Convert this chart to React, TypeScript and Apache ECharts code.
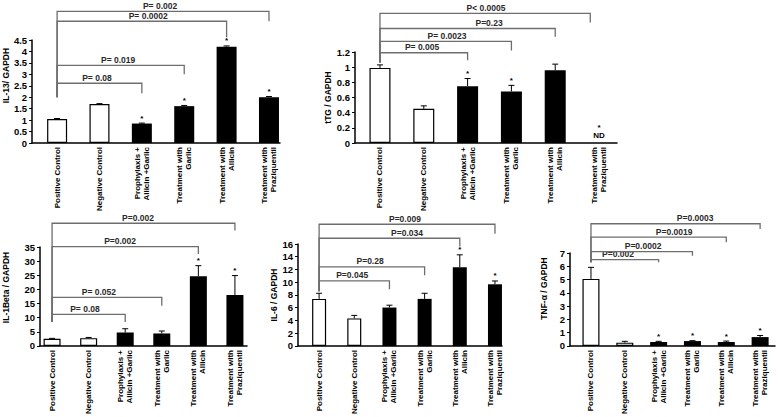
import React, { useEffect, useRef } from 'react';
import * as echarts from 'echarts';

const categories = [
  'Positive Control',
  'Negative Control',
  'Prophylaxis +\nAllicin +Garlic',
  'Treatment with\nGarlic',
  'Treatment with\nAllicin',
  'Treatment with\nPraziquentil',
];
const controlCount = 2;

// IL-13 / GAPDH
const il13Mean = [1.05, 1.70, 0.85, 1.61, 4.21, 2.0];
const il13Sem = [0.02, 0.02, 0.02, 0.03, 0.03, 0.03];
const il13Sig = [0, 0, 1, 1, 1, 1];
const il13Brackets = [
  { p: 'P= 0.08', to: 2, level: 2.61, drop: 2.17, lx: 0.94 },
  { p: 'P= 0.019', to: 3, level: 3.39, drop: 3.0, lx: 1.44 },
  { p: 'P= 0.0002', to: 4, level: 5.32, drop: 4.62, lx: 2.15 },
  { p: 'P= 0.002', to: 5, level: 5.75, drop: 5.32, lx: 2.43 },
];

// tTG / GAPDH
const ttgMean = [0.99, 0.45, 0.75, 0.68, 0.96, null];
const ttgSem = [0.04, 0.04, 0.1, 0.08, 0.08, 0];
const ttgSig = [0, 0, 1, 1, 0, 1];
const ttgBrackets = [
  { p: 'P= 0.005', to: 2, level: 1.19, drop: 1.09, lx: 0.96 },
  { p: 'P= 0.0023', to: 3, level: 1.34, drop: 1.22, lx: 1.53 },
  { p: 'P=0.23', to: 4, level: 1.51, drop: 1.40, lx: 2.49 },
  { p: 'P< 0.0005', to: 4.8, level: 1.71, drop: 1.59, lx: 2.42 },
];

// IL-1Beta / GAPDH
const il1Mean = [2.55, 2.77, 4.76, 4.43, 24.7, 18.05];
const il1Sem = [0.15, 0.25, 1.34, 0.87, 3.7, 6.85];
const il1Sig = [0, 0, 0, 0, 1, 1];
const il1Brackets = [
  { p: 'P= 0.08', to: 2, level: 11.2, drop: 8.5, lx: 0.9 },
  { p: 'P= 0.052', to: 3, level: 17.2, drop: 14.2, lx: 1.28 },
  { p: 'P=0.002', to: 4, level: 35.1, drop: 32.5, lx: 1.86 },
  { p: 'P=0.002', to: 5, level: 43.4, drop: 40.8, lx: 2.35 },
];

// IL-6 / GAPDH
const il6Mean = [7.39, 4.33, 6.03, 7.39, 12.35, 9.68];
const il6Sem = [0.88, 0.47, 0.37, 0.88, 1.95, 0.52];
const il6Sig = [0, 0, 0, 0, 1, 1];
const il6Brackets = [
  { p: 'P=0.045', to: 2, level: 10.2, drop: 8.9, lx: 0.94 },
  { p: 'P=0.28', to: 3, level: 12.4, drop: 11.1, lx: 1.45 },
  { p: 'P=0.034', to: 4, level: 16.9, drop: 15.6, lx: 2.5 },
  { p: 'P=0.009', to: 5, level: 19.1, drop: 17.6, lx: 2.44 },
];

// TNF-α / GAPDH
const tnfMean = [5.05, 0.25, 0.3, 0.37, 0.3, 0.67];
const tnfSem = [0.87, 0.1, 0.05, 0.03, 0.07, 0.12];
const tnfSig = [0, 0, 1, 1, 1, 1];
const tnfBrackets = [
  { p: 'P=0.002', to: 2, level: 6.5, drop: 6.3, lx: 0.8 },
  { p: 'P=0.0002', to: 3, level: 7.1, drop: 6.8, lx: 1.54 },
  { p: 'P=0.0019', to: 4, level: 8.2, drop: 7.8, lx: 2.46 },
  { p: 'P=0.0003', to: 5, level: 9.2, drop: 8.8, lx: 3.08 },
];

const panels = [
  { name: 'IL-13/ GAPDH', mean: il13Mean, sem: il13Sem, sig: il13Sig, br: il13Brackets, base: 2.0, max: 4.5, interval: 0.5 },
  { name: 'tTG / GAPDH', mean: ttgMean, sem: ttgSem, sig: ttgSig, br: ttgBrackets, base: 1.06, max: 1.2, interval: 0.2 },
  { name: 'IL-1Beta / GAPDH', mean: il1Mean, sem: il1Sem, sig: il1Sig, br: il1Brackets, base: 8.5, max: 35, interval: 5 },
  { name: 'IL-6 / GAPDH', mean: il6Mean, sem: il6Sem, sig: il6Sig, br: il6Brackets, base: 8.6, max: 16, interval: 2 },
  { name: 'TNF-α / GAPDH', mean: tnfMean, sem: tnfSem, sig: tnfSig, br: tnfBrackets, base: 6.3, max: 7, interval: 1 },
];

const layout = [
  { left: 32, top: 40, width: 248, height: 103, xmin: -0.59, xmax: 5.26, bw: 20, gap: 17, pad: 32 },
  { left: 355, top: 52, width: 262, height: 91, xmin: -0.57, xmax: 5.41, bw: 21, gap: 22, pad: 0 },
  { left: 40, top: 247, width: 207, height: 106, xmin: -0.33, xmax: 5.33, bw: 17, gap: 30, pad: 18 },
  { left: 298, top: 244, width: 204, height: 110, xmin: -0.6, xmax: 5.2, bw: 14, gap: 18, pad: 0 },
  { left: 570, top: 253, width: 205, height: 94, xmin: -0.62, xmax: 5.44, bw: 17, gap: 22, pad: 22 },
];

const FONT = "'Liberation Sans', Arial, sans-serif";

function buildOption() {
  const grid: any[] = [];
  const xAxis: any[] = [];
  const yAxis: any[] = [];
  const series: any[] = [];
  panels.forEach((p, k) => {
    const L = layout[k];
    grid.push({ left: L.left, top: L.top, width: L.width, height: L.height });
    xAxis.push({
      type: 'value',
      gridIndex: k,
      min: L.xmin,
      max: L.xmax,
      splitLine: { show: false },
      axisLine: { show: true, onZero: false, lineStyle: { color: '#000', width: 1.5 } },
      axisTick: { show: false },
      axisLabel: {
        customValues: [0, 1, 2, 3, 4, 5],
        formatter: (v: number) => categories[Math.round(v)] ?? '',
        rotate: 90,
        margin: 4,
        fontFamily: FONT,
        fontWeight: 'bold',
        fontSize: 8,
        lineHeight: 9,
        color: '#000',
      },
    });
    yAxis.push({
      type: 'value',
      gridIndex: k,
      min: 0,
      max: p.max,
      interval: p.interval,
      name: p.name,
      nameLocation: 'middle',
      nameGap: L.gap,
      nameTextStyle: {
        fontFamily: FONT,
        fontWeight: 'bold',
        fontSize: 8.5,
        color: '#000',
        padding: [0, 0, 0, L.pad],
      },
      splitLine: { show: false },
      axisLine: { show: true, onZero: false, lineStyle: { color: '#000', width: 1.5 } },
      axisTick: { show: true, length: 3, lineStyle: { color: '#000', width: 1 } },
      axisLabel: { fontFamily: FONT, fontWeight: 'bold', fontSize: 9.5, color: '#000', margin: 5 },
    });
    series.push({
      type: 'bar',
      xAxisIndex: k,
      yAxisIndex: k,
      barWidth: L.bw,
      data: p.mean.map((v, i) => ({
        value: [i, v],
        itemStyle: i < controlCount
          ? { color: '#fff', borderColor: '#000', borderWidth: 1.2 }
          : { color: '#000' },
      })),
    });
    series.push({
      type: 'custom',
      xAxisIndex: k,
      yAxisIndex: k,
      clip: false,
      data: p.mean.map((v, i) => [i, v == null ? 0 : v + p.sem[i]]),
      renderItem: (params: any, api: any) => {
        const i = params.dataIndex;
        const m = p.mean[i];
        const children: any[] = [];
        const [x, y0] = api.coord([i, 0]);
        const starFont = `bold 8px ${FONT}`;
        if (m == null) {
          children.push({
            type: 'text',
            style: { text: 'ND', x, y: y0 - 4, align: 'center', verticalAlign: 'bottom', font: `bold 8px ${FONT}`, fill: '#000' },
          });
          if (p.sig[i]) {
            children.push({
              type: 'text',
              style: { text: '*', x, y: y0 - 12, align: 'center', verticalAlign: 'bottom', font: starFont, fill: '#000' },
            });
          }
        } else {
          const yb = api.coord([i, m])[1];
          const yt = api.coord([i, m + p.sem[i]])[1];
          children.push({ type: 'line', shape: { x1: x, y1: yb, x2: x, y2: yt }, style: { stroke: '#000', lineWidth: 1 } });
          children.push({ type: 'line', shape: { x1: x - 3, y1: yt, x2: x + 3, y2: yt }, style: { stroke: '#000', lineWidth: 1 } });
          if (p.sig[i]) {
            children.push({
              type: 'text',
              style: { text: '*', x, y: yt - 1, align: 'center', verticalAlign: 'bottom', font: starFont, fill: '#000' },
            });
          }
        }
        return { type: 'group', children };
      },
      z: 5,
    });
    series.push({
      type: 'custom',
      xAxisIndex: k,
      yAxisIndex: k,
      clip: false,
      data: p.br.map((b) => [b.to, b.level]),
      renderItem: (params: any, api: any) => {
        const b = p.br[params.dataIndex];
        const [x0, yBase] = api.coord([0, p.base]);
        const yl = api.coord([0, b.level])[1];
        const [x1, yd] = api.coord([b.to, b.drop]);
        const lx = api.coord([b.lx, 0])[0];
        return {
          type: 'group',
          children: [
            {
              type: 'polyline',
              shape: { points: [[x0, yBase], [x0, yl], [x1, yl], [x1, yd]] },
              style: { stroke: '#6e6e6e', lineWidth: 1.3, fill: null },
            },
            {
              type: 'text',
              style: { text: b.p, x: lx, y: yl - 1, align: 'center', verticalAlign: 'bottom', font: `bold 8.5px ${FONT}`, fill: '#2a2a2a' },
            },
          ],
        };
      },
      z: 4,
    });
  });
  return { animation: false, backgroundColor: '#fff', grid, xAxis, yAxis, series };
}

export default function App() {
  const ref = useRef<HTMLDivElement>(null);
  useEffect(() => {
    if (!ref.current) return;
    const chart = echarts.init(ref.current, undefined, { renderer: 'svg' });
    chart.setOption(buildOption() as any);
    return () => chart.dispose();
  }, []);
  return (
    <div
      ref={ref}
      style={{ position: 'fixed', left: 0, top: 0, width: 778, height: 417, background: '#fff' }}
    />
  );
}
